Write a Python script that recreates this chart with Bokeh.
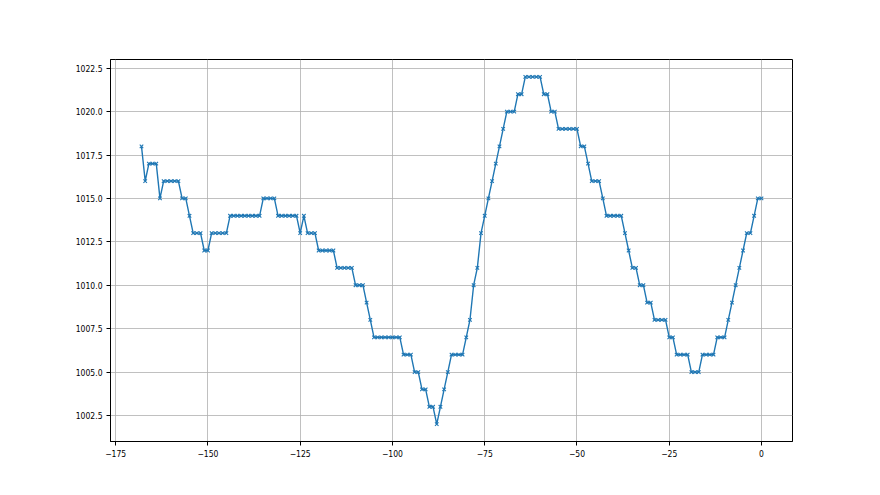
from bokeh.plotting import figure
from bokeh.models import FixedTicker, NumeralTickFormatter, Range1d
from bokeh.embed import file_html
from bokeh.resources import INLINE

# hours relative to now
hours = list(range(-168, 1))
# pressure readings (hPa)
pressure = (
    [1018, 1016, 1017, 1017, 1017, 1015]
    + [1016] * 5 + [1015, 1015, 1014] + [1013] * 3 + [1012] * 2
    + [1013] * 5 + [1014] * 9 + [1015] * 4 + [1014] * 6
    + [1013, 1014] + [1013] * 3 + [1012] * 5 + [1011] * 5
    + [1010] * 3 + [1009, 1008] + [1007] * 8 + [1006] * 3
    + [1005] * 2 + [1004] * 2 + [1003] * 2 + [1002, 1003, 1004, 1005]
    + [1006] * 4 + [1007, 1008, 1010, 1011, 1013, 1014, 1015, 1016, 1017, 1018, 1019]
    + [1020] * 3 + [1021] * 2 + [1022] * 5 + [1021] * 2 + [1020] * 2
    + [1019] * 6 + [1018] * 2 + [1017] + [1016] * 3 + [1015]
    + [1014] * 5 + [1013, 1012] + [1011] * 2 + [1010] * 2 + [1009] * 2
    + [1008] * 4 + [1007] * 2 + [1006] * 4 + [1005] * 3 + [1006] * 4
    + [1007] * 3 + [1008, 1009, 1010, 1011, 1012] + [1013] * 2 + [1014]
    + [1015] * 2
)
assert len(pressure) == len(hours)

x_ticks = [-175, -150, -125, -100, -75, -50, -25, 0]
x_tick_labels = ["\u2212175", "\u2212150", "\u2212125", "\u2212100", "\u221275", "\u221250", "\u221225", "0"]
y_ticks = [1002.5, 1005.0, 1007.5, 1010.0, 1012.5, 1015.0, 1017.5, 1020.0, 1022.5]

FONT = "'DejaVu Sans Condensed', 'Liberation Sans Narrow', 'DejaVu Sans'"

p = figure(width=860, height=476, output_backend="svg", toolbar_location=None,
           x_range=Range1d(-176.4, 8.4), y_range=Range1d(1001.0, 1023.0),
           min_border_left=110, min_border_right=68, min_border_top=59, min_border_bottom=35)

p.outline_line_color = "black"
p.outline_line_width = 1
p.background_fill_color = "white"
p.border_fill_color = "white"

p.xaxis.ticker = FixedTicker(ticks=x_ticks)
p.xaxis.major_label_overrides = {t: l for t, l in zip(x_ticks, x_tick_labels)}
p.yaxis.ticker = FixedTicker(ticks=y_ticks)
p.yaxis.formatter = NumeralTickFormatter(format="0.0")

for ax in (p.xaxis, p.yaxis):
    ax.axis_line_color = "black"
    ax.axis_line_width = 1
    ax.major_tick_line_color = "black"
    ax.major_tick_out = 4
    ax.major_tick_in = 0
    ax.minor_tick_line_color = None
    ax.major_label_text_font = FONT
    ax.major_label_text_font_size = "8.5px"
    ax.major_label_text_color = "black"
    ax.major_label_standoff = 4

p.xgrid.ticker = FixedTicker(ticks=x_ticks)
p.ygrid.ticker = FixedTicker(ticks=y_ticks)
p.grid.grid_line_color = "#b0b0b0"
p.grid.grid_line_width = 0.8

p.line(hours, pressure, line_color="#1f77b4", line_width=1.4)
p.scatter(hours, pressure, marker="x", size=5, line_color="#1f77b4", line_width=1.1)

open("out.html", "w").write(file_html(p, INLINE))
